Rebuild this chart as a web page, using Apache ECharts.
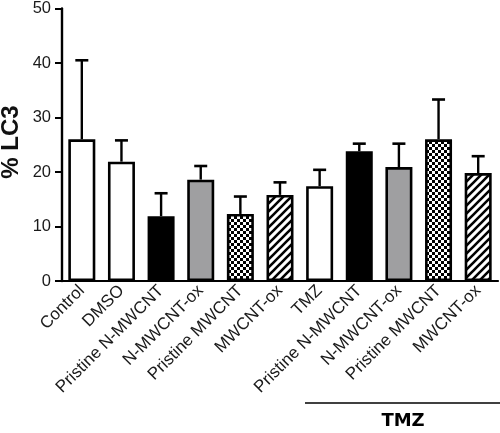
<!DOCTYPE html>
<html>
<head>
<meta charset="utf-8">
<script src="https://cdn.jsdelivr.net/npm/echarts@6/dist/echarts.min.js"></script>
<style>html,body{margin:0;padding:0;background:#fff;}#c{width:500px;height:433px;}</style>
</head>
<body>
<div id="c"></div>
<script>
var categories = ['Control','DMSO','Pristine N-MWCNT','N-MWCNT-ox','Pristine MWCNT','MWCNT-ox','TMZ','Pristine N-MWCNT','N-MWCNT-ox','Pristine MWCNT','MWCNT-ox'];
var means = [26.0, 21.9, 11.9, 18.6, 12.3, 15.8, 17.4, 23.8, 20.9, 26.0, 19.8];
var errUpper = [40.5, 25.8, 16.1, 21.1, 15.5, 18.1, 20.4, 25.2, 25.2, 33.3, 22.9];
var fills = ['white','white','black','gray','checker','stripe','white','black','gray','checker','stripe'];
var yTicks = [0, 10, 20, 30, 40, 50];
var yTitle = '% LC3';
var groupLabel = 'TMZ';

function makeChecker() {
  var c = document.createElement('canvas');
  c.width = 6; c.height = 6;
  var g = c.getContext('2d');
  g.fillStyle = '#fff'; g.fillRect(0,0,6,6);
  g.fillStyle = '#000'; g.fillRect(0,0,3,3); g.fillRect(3,3,3,3);
  return c;
}
function makeStripe() {
  var s = 8;
  var c = document.createElement('canvas');
  c.width = s; c.height = s;
  var g = c.getContext('2d');
  g.fillStyle = '#fff'; g.fillRect(0,0,s,s);
  g.strokeStyle = '#000'; g.lineWidth = 2.6;
  g.beginPath();
  g.moveTo(-2, s+2); g.lineTo(s+2, -2);
  g.moveTo(-2-s, s+2); g.lineTo(2, -2);
  g.moveTo(s-2, s+2); g.lineTo(2*s+2, -2);
  g.stroke();
  return c;
}
var checker = makeChecker();
var stripe = makeStripe();
function fillFor(t) {
  if (t === 'white') return '#ffffff';
  if (t === 'black') return '#000000';
  if (t === 'gray') return '#9f9fa1';
  if (t === 'checker') return {image: checker, repeat: 'repeat'};
  return {image: stripe, repeat: 'repeat'};
}

var font = 'Liberation Sans, Arial, Helvetica, sans-serif';
var chart = echarts.init(document.getElementById('c'), null, {renderer: 'canvas'});
chart.setOption({
  animation: false,
  backgroundColor: '#fff',
  grid: {left: 62, right: 2, top: 6, bottom: 152},
  xAxis: {
    type: 'category',
    data: categories,
    axisLine: {lineStyle: {color: '#000', width: 2.2}},
    axisTick: {alignWithLabel: true, length: 6, lineStyle: {color: '#000', width: 2}},
    axisLabel: {rotate: 45, fontSize: 17, color: '#1a1a1a', fontFamily: font, margin: 7, interval: 0}
  },
  yAxis: {
    type: 'value', min: 0, max: 50, interval: 10,
    axisLine: {show: true, lineStyle: {color: '#000', width: 2.4}},
    axisTick: {show: true, length: 7, lineStyle: {color: '#000', width: 2}},
    splitLine: {show: false},
    axisLabel: {fontSize: 16.5, color: '#1a1a1a', fontFamily: font, margin: 11,
      formatter: function(v){ return yTicks.indexOf(v) >= 0 ? String(v) : ''; }}
  },
  series: [{
    type: 'bar',
    barWidth: 27,
    data: means.map(function(v, i){
      return {value: v, itemStyle: {color: fillFor(fills[i]), borderColor: '#000', borderWidth: 2.6}};
    }),
    z: 2
  }, {
    type: 'custom',
    z: 1,
    data: means.map(function(v, i){ return [i, v, errUpper[i]]; }),
    renderItem: function(params, api) {
      var x = api.value(0);
      var base = api.coord([x, api.value(1)]);
      var top = api.coord([x, api.value(2)]);
      var hw = 6.5;
      return {
        type: 'group',
        children: [
          {type: 'line', shape: {x1: base[0], y1: base[1], x2: top[0], y2: top[1]}, style: {stroke: '#000', lineWidth: 2.4}},
          {type: 'line', shape: {x1: top[0]-hw, y1: top[1], x2: top[0]+hw, y2: top[1]}, style: {stroke: '#000', lineWidth: 2.6}}
        ]
      };
    }
  }],
  graphic: [
    {type: 'text', x: 11, y: 142, rotation: Math.PI/2,
      style: {text: yTitle, font: 'bold 24px ' + font, fill: '#111', textAlign: 'center', textVerticalAlign: 'middle'}},
    {type: 'line', shape: {x1: 305, y1: 403, x2: 500, y2: 403}, style: {stroke: '#000', lineWidth: 1.5}},
    {type: 'text', x: 403, y: 421, style: {text: groupLabel, font: 'bold 18px DejaVu Sans, ' + font, fill: '#000', textAlign: 'center', textVerticalAlign: 'middle'}}
  ]
});
</script>
</body>
</html>
